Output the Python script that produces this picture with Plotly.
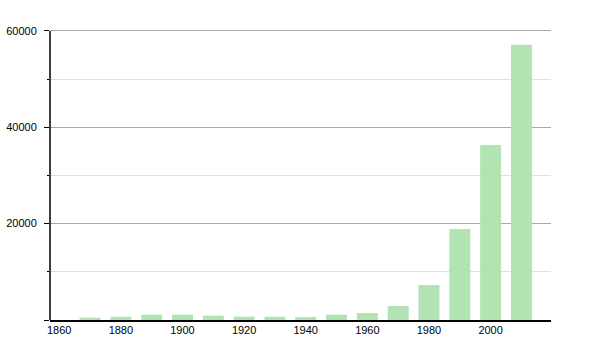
import plotly.graph_objects as go

years = [1870, 1880, 1890, 1900, 1910, 1920, 1930, 1940, 1950, 1960, 1970, 1980, 1990, 2000, 2010]
population = [480, 690, 1100, 1100, 900, 700, 690, 620, 1100, 1450, 2900, 7270, 18900, 36300, 57100]
x_ticks = [1860, 1880, 1900, 1920, 1940, 1960, 1980, 2000]
y_ticks = [0, 20000, 40000, 60000]
y_ticktext = ["", "20000", "40000", "60000"]

fig = go.Figure(go.Bar(
    x=years, y=population, width=6.8,
    marker=dict(color="rgb(178,227,178)", line=dict(width=0)),
))

fig.update_layout(
    width=600, height=350,
    margin=dict(l=50, r=49, t=28, b=30, autoexpand=False),
    paper_bgcolor="white", plot_bgcolor="white",
    showlegend=False,
    font=dict(family="Liberation Sans, Arial, sans-serif", size=11, color="black"),
)
fig.update_xaxes(
    range=[1857, 2019.6], tickvals=x_ticks, showgrid=False,
    showline=True, linecolor="black", linewidth=1.5, ticks="", zeroline=False,
    ticklabelstandoff=-1, automargin=False,
)
fig.update_yaxes(
    range=[0, 60600], tickvals=y_ticks, ticktext=y_ticktext,
    showgrid=True, gridcolor="#a8a8a8", gridwidth=1,
    showline=False, ticks="outside", ticklen=5, tickcolor="black", zeroline=False,
    ticklabelstandoff=5, automargin=False,
    minor=dict(dtick=10000, tick0=0, showgrid=True, gridcolor="#e0e0e0",
               ticks="outside", ticklen=2, tickcolor="black"),
)
# y-axis spine from 0 to 60000 only (as in the reference)
fig.add_shape(type="line", xref="paper", x0=0, x1=0, yref="y", y0=0, y1=60000,
              line=dict(color="black", width=1.5))

fig.write_html("out.html")
